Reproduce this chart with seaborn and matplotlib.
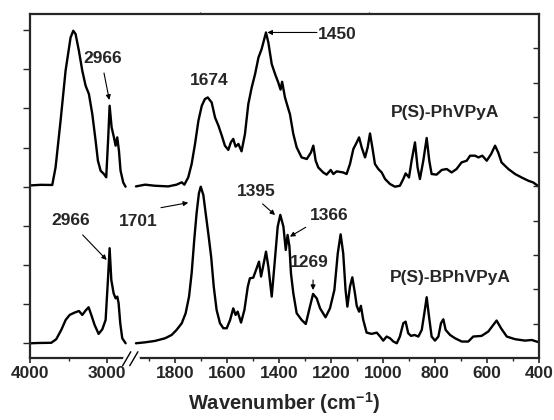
"""FTIR spectra of P(S)-PhVPyA and P(S)-BPhVPyA with a broken wavenumber axis."""
import matplotlib

matplotlib.use("Agg")
import matplotlib.pyplot as plt
import numpy as np
import seaborn as sns

# wavenumber (cm-1) / absorbance (% of the strongest band)
PH_HIGH_WN = [4000, 3862, 3711, 3668, 3603, 3538, 3473, 3438, 3408, 3365, 3321, 3278, 3235,
              3191, 3148, 3118, 3083, 3040, 3010, 2984, 2966, 2940, 2910, 2888, 2867, 2845,
              2824, 2789, 2759]
PH_HIGH_ABS = [0.8, 1.2, 1.1, 12.3, 42.1, 74.1, 95.3, 99.6, 97.5, 86.8, 74.1, 64.5, 59.2,
               46.4, 29.4, 16.6, 10.2, 8.1, 6.0, 31.5, 51.7, 37.9, 31.5, 26.2, 31.5, 23.0,
               10.2, 2.7, 0.0]

PH_LOW_WN = [1954, 1915, 1877, 1826, 1794, 1774, 1764, 1749, 1736, 1723, 1710, 1697, 1685,
             1674, 1659, 1646, 1633, 1620, 1608, 1595, 1585, 1576, 1567, 1556, 1544, 1531,
             1518, 1505, 1492, 1479, 1467, 1450, 1441, 1428, 1415, 1403, 1394, 1388, 1377,
             1364, 1358, 1345, 1332, 1313, 1293, 1277, 1268, 1259, 1249, 1230, 1217, 1201,
             1191, 1178, 1153, 1140, 1127, 1114, 1101, 1092, 1082, 1069, 1059, 1050, 1041,
             1031, 1018, 1005, 992, 973, 954, 935, 922, 913, 900, 890, 877, 867, 858, 845,
             832, 822, 813, 794, 774, 755, 736, 717, 698, 678, 665, 646, 633, 618, 601, 584,
             569, 557, 544, 518, 492, 467, 441, 422, 400]
PH_LOW_ABS = [0.2, 1.3, 0.6, 0.2, 1.3, 2.8, 1.3, 6.0, 14.5, 27.3, 42.1, 51.7, 56.0,
              57.0, 53.8, 44.2, 39.0, 32.6, 26.2, 23.5, 28.4, 30.5, 25.6, 27.3, 22.6, 33.6,
              52.8, 63.4, 71.9, 82.5, 87.8, 98.5, 92.1, 78.3, 71.9, 66.6, 62.0, 67.0, 57.0,
              49.6, 46.4, 33.7, 25.1, 18.7, 17.7, 21.9, 26.2, 16.6, 12.3, 9.1, 7.7, 10.7,
              8.1, 9.8, 9.1, 8.1, 14.5, 24.1, 28.3, 31.5, 25.1, 18.7, 25.1, 34.0, 25.1,
              14.5, 11.3, 9.1, 4.9, 1.7, 0.0, 0.6, 4.9, 8.5, 5.9, 16.6, 28.3, 12.3, 4.9, 16.6,
              31.1, 16.6, 8.1, 7.7, 10.7, 11.3, 9.1, 11.3, 15.5, 16.6, 19.8, 19.8, 18.7, 19.8,
              16.6, 20.9, 26.2, 21.9, 15.5, 11.3, 8.1, 5.9, 3.8, 2.7, 0.0]

BPH_HIGH_WN = [4000, 3870, 3724, 3659, 3594, 3537, 3485, 3421, 3364, 3321, 3278, 3239, 3204,
               3161, 3109, 3061, 3018, 2988, 2966, 2944, 2914, 2888, 2866, 2849, 2828, 2802,
               2758]
BPH_HIGH_ABS = [0.0, 0.2, 0.3, 2.6, 8.5, 14.9, 18.1, 19.6, 20.6, 18.1, 20.9, 23.0, 18.1,
                11.7, 6.0, 8.9, 14.9, 40.4, 60.7, 40.4, 31.9, 28.7, 29.8, 25.5, 12.8, 3.2,
                0.0]

BPH_LOW_WN = [1954, 1915, 1877, 1838, 1813, 1794, 1774, 1759, 1746, 1736, 1726, 1717, 1708,
              1701, 1691, 1682, 1672, 1661, 1651, 1640, 1627, 1614, 1601, 1588, 1576, 1567,
              1559, 1546, 1533, 1520, 1512, 1499, 1486, 1477, 1469, 1460, 1450, 1441, 1428,
              1418, 1405, 1395, 1383, 1374, 1367, 1360, 1354, 1345, 1332, 1313, 1297, 1281,
              1269, 1255, 1242, 1221, 1204, 1187, 1174, 1163, 1153, 1144, 1137, 1127, 1118,
              1108, 1101, 1092, 1085, 1076, 1063, 1044, 1024, 1011, 999, 986, 973, 960, 947,
              935, 922, 913, 903, 892, 879, 864, 851, 841, 832, 823, 813, 800, 787, 777, 768,
              759, 742, 723, 697, 672, 653, 621, 595, 576, 563, 546, 524, 492, 454, 428, 400]
BPH_LOW_ABS = [0.0, 0.6, 1.5, 3.2, 5.3, 8.5, 12.8, 19.2, 29.8, 44.7, 66.0, 83.0, 95.8,
               100.0, 94.7, 83.0, 70.2, 55.3, 36.2, 21.3, 12.8, 9.6, 9.6, 14.9, 22.3, 18.1,
               20.2, 13.2, 21.3, 36.2, 41.5, 41.9, 47.9, 52.1, 42.6, 50.0, 58.5, 49.0, 29.8,
               49.0, 74.5, 82.0, 74.5, 59.6, 69.2, 62.0, 44.7, 32.0, 19.2, 14.9, 12.3, 23.4,
               31.5, 28.7, 22.3, 16.6, 22.3, 34.0, 57.4, 69.6, 57.4, 34.0, 23.4, 36.2, 42.1,
               32.0, 23.9, 20.2, 23.9, 14.9, 6.8, 6.0, 6.8, 4.3, 1.7, 4.3, 3.2, 1.1, 0.0,
               4.3, 12.8, 13.8, 6.4, 4.7, 5.3, 4.3, 8.5, 19.2, 29.4, 17.0, 4.3, 1.7, 4.3, 12.8,
               15.3, 8.5, 5.3, 3.2, 1.1, 1.1, 4.3, 4.7, 7.5, 11.7, 14.5, 9.6, 4.3, 2.6, 1.7,
               2.1, 0.6]

MAJOR_TICKS = [4000, 3000, 1800, 1600, 1400, 1200, 1000, 800, 600, 400]
MINOR_TICKS = [3500, 1900, 1700, 1500, 1300, 1100, 900, 700, 500]

# (text, label position, arrow tail, arrow head) in wavenumber / absorbance units
PH_NOTES = [("2966", (3052, 81.9), (3039, 72.6), (2970, 55.4)),
            ("1674", (1670, 67.7), None, None),
            ("1450", (1175, 97.5), (1254, 98.5), (1445, 98.5))]
BPH_NOTES = [("2966", (3468, 78.7), (3316, 69.2), (3004, 53.2)),
             ("1701", (1942, 77.7), (1854, 86.6), (1749, 89.8)),
             ("1395", (1488, 96.8), (1463, 89.0), (1415, 81.9)),
             ("1366", (1206, 81.6), (1297, 74.1), (1358, 68.1)),
             ("1269", (1285, 51.9), (1269, 40.4), (1269, 34.0))]
PH_NAME, PH_NAME_POS = "P(S)-PhVPyA", (762, 47.1)
BPH_NAME, BPH_NAME_POS = "P(S)-BPhVPyA", (742, 41.7)

TOP_OFFSET = 100.0

# piecewise-linear wavenumber axis: compressed 4000-2750, gap, expanded 1950-400
_WN = np.array([400.0, 1950.0, 2750.0, 4000.0])
_POS = np.array([0.0, 403.0, 412.75, 509.0])
_LO_SLOPE = (_POS[1] - _POS[0]) / (_WN[1] - _WN[0])
_HI_SLOPE = (_POS[3] - _POS[2]) / (_WN[3] - _WN[2])


def _fwd(w):
    w = np.asarray(w, dtype=float)
    out = np.interp(w, _WN, _POS)
    out = np.where(w < _WN[0], _POS[0] + (w - _WN[0]) * _LO_SLOPE, out)
    return np.where(w > _WN[-1], _POS[-1] + (w - _WN[-1]) * _HI_SLOPE, out)


def _inv(p):
    p = np.asarray(p, dtype=float)
    out = np.interp(p, _POS, _WN)
    out = np.where(p < _POS[0], _WN[0] + (p - _POS[0]) / _LO_SLOPE, out)
    return np.where(p > _POS[-1], _WN[-1] + (p - _POS[-1]) / _HI_SLOPE, out)


def _annotate(ax, notes, offset):
    for text, pos, tail, head in notes:
        ax.text(pos[0], pos[1] + offset, text, ha="center", va="center",
                fontsize=12.5, fontweight="bold")
        if tail is not None:
            ax.annotate("", xy=(head[0], head[1] + offset), xytext=(tail[0], tail[1] + offset),
                        arrowprops=dict(arrowstyle="-|>", color="black", lw=0.8,
                                        mutation_scale=7, shrinkA=0, shrinkB=0))


def main() -> None:
    sns.set_style("ticks")
    plt.rcParams["font.family"] = ["Liberation Sans", "DejaVu Sans"]
    plt.rcParams["mathtext.fontset"] = "custom"
    plt.rcParams["mathtext.rm"] = "Liberation Sans"
    plt.rcParams["mathtext.bf"] = "Liberation Sans:bold"

    fig = plt.figure(figsize=(5.54, 4.2), dpi=100)
    ax = fig.add_axes([30 / 554, 61.7 / 420, 509 / 554, 344.3 / 420])
    ax.set_xscale("function", functions=(_fwd, _inv))

    line_kw = dict(color="black", linewidth=1.7, estimator=None, sort=False, ax=ax)
    sns.lineplot(x=PH_HIGH_WN, y=np.asarray(PH_HIGH_ABS) + TOP_OFFSET, **line_kw)
    sns.lineplot(x=PH_LOW_WN, y=np.asarray(PH_LOW_ABS) + TOP_OFFSET, **line_kw)
    sns.lineplot(x=BPH_HIGH_WN, y=BPH_HIGH_ABS, **line_kw)
    sns.lineplot(x=BPH_LOW_WN, y=BPH_LOW_ABS, **line_kw)

    ax.set_xlim(4000, 400)
    ax.set_ylim(-9.6, 210.3)
    ax.set_xticks(MAJOR_TICKS)
    ax.set_xticklabels([str(t) for t in MAJOR_TICKS], fontsize=12.5, fontweight="bold")
    ax.set_xticks(MINOR_TICKS, minor=True)
    ax.set_yticks(np.arange(0, 201, 25))
    ax.set_yticklabels([])
    ax.tick_params(axis="x", which="major", direction="out", length=3.8, width=1.2, pad=2)
    ax.tick_params(axis="x", which="minor", direction="out", length=2.5, width=1.0)
    ax.tick_params(axis="y", which="major", direction="out", length=4.8, width=1.0)
    ax.set_xlabel(r"Wavenumber (cm$^{\mathbf{-1}}$)", fontsize=14.5, fontweight="bold",
                  labelpad=6)
    for side in ax.spines.values():
        side.set_linewidth(1.6)

    # right-hand ticks split the height into tenths
    axr = ax.twinx()
    axr.set_ylim(0, 10)
    axr.set_yticks(range(1, 10))
    axr.set_yticklabels([])
    axr.tick_params(axis="y", direction="in", length=4.3, width=1.0)
    # faint top ticks at thirds
    axt = ax.twiny()
    axt.set_xlim(0, 1)
    axt.set_xticks([1 / 3, 2 / 3])
    axt.set_xticklabels([])
    axt.tick_params(axis="x", direction="out", length=1.5, width=0.8)
    for twin in (axr, axt):
        for side in twin.spines.values():
            side.set_visible(False)

    # break in the bottom axis
    ax.plot([0.1866, 0.2102], [0, 0], transform=ax.transAxes, color="white", lw=3.5,
            clip_on=False, zorder=5)
    for x0 in (0.182, 0.196):
        ax.plot([x0, x0 + 0.016], [-0.0215, 0.019], transform=ax.transAxes, color="black",
                lw=1.0, clip_on=False, zorder=6)

    _annotate(ax, PH_NOTES, TOP_OFFSET)
    _annotate(ax, BPH_NOTES, 0.0)
    ax.text(PH_NAME_POS[0], PH_NAME_POS[1] + TOP_OFFSET, PH_NAME, ha="center", va="center",
            fontsize=12.5, fontweight="bold")
    ax.text(BPH_NAME_POS[0], BPH_NAME_POS[1], BPH_NAME, ha="center", va="center",
            fontsize=12.5, fontweight="bold")

    fig.savefig("out.png", dpi=100)
    plt.close(fig)


if __name__ == "__main__":
    main()
